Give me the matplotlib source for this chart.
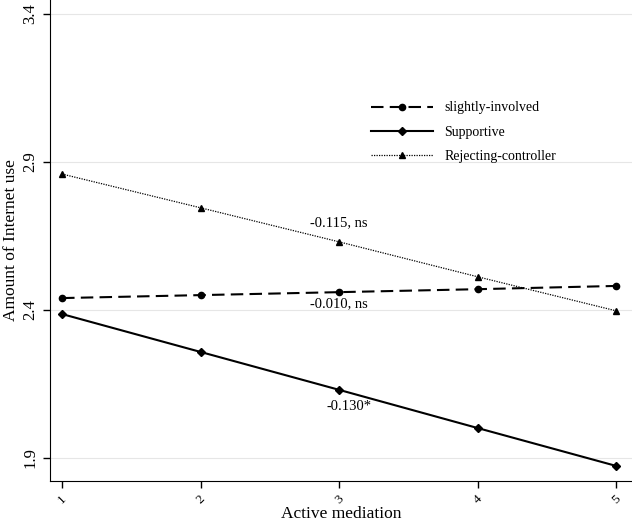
import numpy as np
import matplotlib
matplotlib.use('agg')
import matplotlib.pyplot as plt

plt.rcParams['font.family'] = ['Liberation Serif', 'DejaVu Serif']

x = [1, 2, 3, 4, 5]
slightly = [2.440, 2.450, 2.460, 2.470, 2.481]
supportive = [2.386, 2.258, 2.130, 2.001, 1.873]
rejecting = [2.859, 2.745, 2.630, 2.512, 2.397]
yticks = [1.9, 2.4, 2.9, 3.4]
notes = ['-0.115, ns', '-0.010, ns', '-0.130*']
note_pos = [(3.0, 2.695), (3.0, 2.420), (3.07, 2.075)]

fig = plt.figure(figsize=(6.32, 5.23), dpi=100)
ax = fig.add_axes([50/632, 42/523, 582/632, 481/523])

for yv in yticks:
    ax.axhline(yv, color='#e6e6e6', lw=0.8, zorder=0)

ax.plot(x, slightly, color='black', lw=1.5, ls=(0, (6, 3)), marker='o', ms=4.5,
        label='slightly-involved')
ax.plot(x, supportive, color='black', lw=1.5, ls='-', marker='D', ms=4.5,
        label='Supportive')
ax.plot(x, rejecting, color='black', lw=0.9, ls=(0, (1, 1)), marker='^', ms=4.5,
        label='Rejecting-controller')

for txt, (xp, yp) in zip(notes, note_pos):
    ax.text(xp, yp, txt, ha='center', va='center', fontsize=10.5)

ax.set_xlim(0.913, 5.115)
ax.set_ylim(1.822, 3.447)
ax.set_xticks(x)
ax.set_xticklabels([str(v) for v in x], rotation=45, fontsize=9.5)
ax.set_yticks(yticks)
ax.set_yticklabels([str(v) for v in yticks], rotation=90, va='center', fontsize=12)
ax.tick_params(direction='out', length=5, width=1)
ax.spines['top'].set_visible(False)
ax.spines['right'].set_visible(False)
ax.set_xlabel('Active mediation', fontsize=12.5, labelpad=0)
ax.set_ylabel('Amount of Internet use', fontsize=12.5, labelpad=2)

ax.legend(loc='upper left', bbox_to_anchor=(0.53, 0.815), frameon=False,
          fontsize=10, handlelength=4.5, labelspacing=0.8)

plt.savefig('out.png', dpi=100)
plt.close()
